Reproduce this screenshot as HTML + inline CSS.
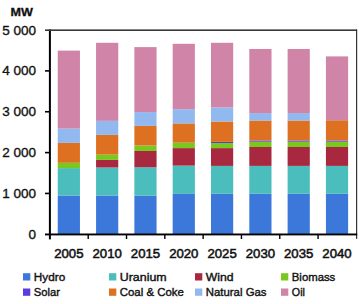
<!DOCTYPE html>
<html><head><meta charset="utf-8"><style>
html,body{margin:0;padding:0;background:#fff;}
body{width:359px;height:304px;overflow:hidden;position:relative;}
svg{position:absolute;left:0;top:0;}
text{font-family:"Liberation Sans",sans-serif;fill:#111;}
.yl{font-size:13.5px;stroke:#111;stroke-width:0.35px;}
.xl{font-size:13.4px;stroke:#111;stroke-width:0.55px;}
.mw{font-size:11px;font-weight:bold;stroke:#111;stroke-width:0.3px;}
.lg{font-size:11.7px;stroke:#111;stroke-width:0.4px;}
</style></head><body>
<svg width="359" height="304" viewBox="0 0 359 304">
<rect x="57.75" y="195.50" width="22.20" height="38.50" fill="#3C78DA"/>
<rect x="57.75" y="168.10" width="22.20" height="27.40" fill="#4BBDBD"/>
<rect x="57.75" y="162.80" width="22.20" height="5.30" fill="#78C81E"/>
<rect x="57.75" y="142.90" width="22.20" height="19.90" fill="#DE7022"/>
<rect x="57.75" y="128.60" width="22.20" height="14.30" fill="#91B9F0"/>
<rect x="57.75" y="50.60" width="22.20" height="78.00" fill="#D084A8"/>
<rect x="96.06" y="195.50" width="22.20" height="38.50" fill="#3C78DA"/>
<rect x="96.06" y="167.50" width="22.20" height="28.00" fill="#4BBDBD"/>
<rect x="96.06" y="159.90" width="22.20" height="7.60" fill="#A82840"/>
<rect x="96.06" y="154.60" width="22.20" height="5.30" fill="#78C81E"/>
<rect x="96.06" y="134.90" width="22.20" height="19.70" fill="#DE7022"/>
<rect x="96.06" y="120.85" width="22.20" height="14.05" fill="#91B9F0"/>
<rect x="96.06" y="42.80" width="22.20" height="78.05" fill="#D084A8"/>
<rect x="134.37" y="195.70" width="22.20" height="38.30" fill="#3C78DA"/>
<rect x="134.37" y="167.30" width="22.20" height="28.40" fill="#4BBDBD"/>
<rect x="134.37" y="151.00" width="22.20" height="16.30" fill="#A82840"/>
<rect x="134.37" y="145.50" width="22.20" height="5.50" fill="#78C81E"/>
<rect x="134.37" y="125.90" width="22.20" height="19.60" fill="#DE7022"/>
<rect x="134.37" y="112.10" width="22.20" height="13.80" fill="#91B9F0"/>
<rect x="134.37" y="47.10" width="22.20" height="65.00" fill="#D084A8"/>
<rect x="172.68" y="193.90" width="22.20" height="40.10" fill="#3C78DA"/>
<rect x="172.68" y="165.60" width="22.20" height="28.30" fill="#4BBDBD"/>
<rect x="172.68" y="148.10" width="22.20" height="17.50" fill="#A82840"/>
<rect x="172.68" y="142.70" width="22.20" height="5.40" fill="#78C81E"/>
<rect x="172.68" y="123.40" width="22.20" height="19.30" fill="#DE7022"/>
<rect x="172.68" y="109.20" width="22.20" height="14.20" fill="#91B9F0"/>
<rect x="172.68" y="43.80" width="22.20" height="65.40" fill="#D084A8"/>
<rect x="210.99" y="193.80" width="22.20" height="40.20" fill="#3C78DA"/>
<rect x="210.99" y="165.90" width="22.20" height="27.90" fill="#4BBDBD"/>
<rect x="210.99" y="148.10" width="22.20" height="17.80" fill="#A82840"/>
<rect x="210.99" y="143.00" width="22.20" height="5.10" fill="#78C81E"/>
<rect x="210.99" y="141.90" width="22.20" height="1.10" fill="#5C3CDC"/>
<rect x="210.99" y="121.50" width="22.20" height="20.40" fill="#DE7022"/>
<rect x="210.99" y="107.50" width="22.20" height="14.00" fill="#91B9F0"/>
<rect x="210.99" y="42.80" width="22.20" height="64.70" fill="#D084A8"/>
<rect x="249.30" y="193.80" width="22.20" height="40.20" fill="#3C78DA"/>
<rect x="249.30" y="165.90" width="22.20" height="27.90" fill="#4BBDBD"/>
<rect x="249.30" y="147.00" width="22.20" height="18.90" fill="#A82840"/>
<rect x="249.30" y="141.70" width="22.20" height="5.30" fill="#78C81E"/>
<rect x="249.30" y="140.50" width="22.20" height="1.20" fill="#5C3CDC"/>
<rect x="249.30" y="120.50" width="22.20" height="20.00" fill="#DE7022"/>
<rect x="249.30" y="113.10" width="22.20" height="7.40" fill="#91B9F0"/>
<rect x="249.30" y="49.00" width="22.20" height="64.10" fill="#D084A8"/>
<rect x="287.61" y="193.80" width="22.20" height="40.20" fill="#3C78DA"/>
<rect x="287.61" y="165.90" width="22.20" height="27.90" fill="#4BBDBD"/>
<rect x="287.61" y="147.00" width="22.20" height="18.90" fill="#A82840"/>
<rect x="287.61" y="141.70" width="22.20" height="5.30" fill="#78C81E"/>
<rect x="287.61" y="140.50" width="22.20" height="1.20" fill="#5C3CDC"/>
<rect x="287.61" y="120.50" width="22.20" height="20.00" fill="#DE7022"/>
<rect x="287.61" y="113.10" width="22.20" height="7.40" fill="#91B9F0"/>
<rect x="287.61" y="49.00" width="22.20" height="64.10" fill="#D084A8"/>
<rect x="325.92" y="193.80" width="22.20" height="40.20" fill="#3C78DA"/>
<rect x="325.92" y="165.90" width="22.20" height="27.90" fill="#4BBDBD"/>
<rect x="325.92" y="147.00" width="22.20" height="18.90" fill="#A82840"/>
<rect x="325.92" y="141.70" width="22.20" height="5.30" fill="#78C81E"/>
<rect x="325.92" y="140.50" width="22.20" height="1.20" fill="#5C3CDC"/>
<rect x="325.92" y="120.20" width="22.20" height="20.30" fill="#DE7022"/>
<rect x="325.92" y="120.00" width="22.20" height="0.20" fill="#91B9F0"/>
<rect x="325.92" y="56.40" width="22.20" height="63.60" fill="#D084A8"/>
<rect x="48.90" y="29.4" width="2" height="210" fill="#000"/>
<rect x="45" y="29.4" width="312" height="1.6" fill="#383838"/>
<rect x="356" y="29.4" width="1.2" height="209.5" fill="#333"/>
<rect x="45" y="233.5" width="312.2" height="1.9" fill="#000"/>
<rect x="45" y="192.65" width="5" height="1.6" fill="#000"/>
<rect x="45" y="151.80" width="5" height="1.6" fill="#000"/>
<rect x="45" y="110.95" width="5" height="1.6" fill="#000"/>
<rect x="45" y="70.10" width="5" height="1.6" fill="#000"/>
<rect x="87.51" y="234" width="1.4" height="5" fill="#000"/>
<rect x="125.82" y="234" width="1.4" height="5" fill="#000"/>
<rect x="164.13" y="234" width="1.4" height="5" fill="#000"/>
<rect x="202.44" y="234" width="1.4" height="5" fill="#000"/>
<rect x="240.75" y="234" width="1.4" height="5" fill="#000"/>
<rect x="279.06" y="234" width="1.4" height="5" fill="#000"/>
<rect x="317.37" y="234" width="1.4" height="5" fill="#000"/>
<text x="36" y="238.80" text-anchor="end" class="yl">0</text>
<text x="36" y="197.95" text-anchor="end" class="yl">1 000</text>
<text x="36" y="157.10" text-anchor="end" class="yl">2 000</text>
<text x="36" y="116.25" text-anchor="end" class="yl">3 000</text>
<text x="36" y="75.40" text-anchor="end" class="yl">4 000</text>
<text x="36" y="34.55" text-anchor="end" class="yl">5 000</text>
<text x="68.85" y="258.4" text-anchor="middle" class="xl" textLength="29.3" lengthAdjust="spacingAndGlyphs">2005</text>
<text x="107.16" y="258.4" text-anchor="middle" class="xl" textLength="29.3" lengthAdjust="spacingAndGlyphs">2010</text>
<text x="145.47" y="258.4" text-anchor="middle" class="xl" textLength="29.3" lengthAdjust="spacingAndGlyphs">2015</text>
<text x="183.78" y="258.4" text-anchor="middle" class="xl" textLength="29.3" lengthAdjust="spacingAndGlyphs">2020</text>
<text x="222.09" y="258.4" text-anchor="middle" class="xl" textLength="29.3" lengthAdjust="spacingAndGlyphs">2025</text>
<text x="260.40" y="258.4" text-anchor="middle" class="xl" textLength="29.3" lengthAdjust="spacingAndGlyphs">2030</text>
<text x="298.71" y="258.4" text-anchor="middle" class="xl" textLength="29.3" lengthAdjust="spacingAndGlyphs">2035</text>
<text x="337.02" y="258.4" text-anchor="middle" class="xl" textLength="29.3" lengthAdjust="spacingAndGlyphs">2040</text>
<text x="10.6" y="15.6" class="mw" textLength="22.4" lengthAdjust="spacingAndGlyphs">MW</text>
<rect x="23" y="273.20" width="7.3" height="7.3" fill="#3C78DA"/>
<text x="33.80" y="280.60" class="lg" textLength="31.4" lengthAdjust="spacingAndGlyphs">Hydro</text>
<rect x="109" y="273.20" width="7.3" height="7.3" fill="#4BBDBD"/>
<text x="119.80" y="280.60" class="lg" textLength="46.8" lengthAdjust="spacingAndGlyphs">Uranium</text>
<rect x="195" y="273.20" width="7.3" height="7.3" fill="#A82840"/>
<text x="205.80" y="280.60" class="lg" textLength="27.8" lengthAdjust="spacingAndGlyphs">Wind</text>
<rect x="281" y="273.20" width="7.3" height="7.3" fill="#78C81E"/>
<text x="291.80" y="280.60" class="lg" textLength="43.5" lengthAdjust="spacingAndGlyphs">Biomass</text>
<rect x="23" y="288.50" width="7.3" height="7.3" fill="#5C3CDC"/>
<text x="33.80" y="295.90" class="lg" textLength="26.2" lengthAdjust="spacingAndGlyphs">Solar</text>
<rect x="109" y="288.50" width="7.3" height="7.3" fill="#DE7022"/>
<text x="119.80" y="295.90" class="lg" textLength="64.0" lengthAdjust="spacingAndGlyphs">Coal &amp; Coke</text>
<rect x="195" y="288.50" width="7.3" height="7.3" fill="#91B9F0"/>
<text x="205.80" y="295.90" class="lg" textLength="60.7" lengthAdjust="spacingAndGlyphs">Natural Gas</text>
<rect x="281" y="288.50" width="7.3" height="7.3" fill="#D084A8"/>
<text x="291.80" y="295.90" class="lg" textLength="13.1" lengthAdjust="spacingAndGlyphs">Oil</text>
</svg>
</body></html>
